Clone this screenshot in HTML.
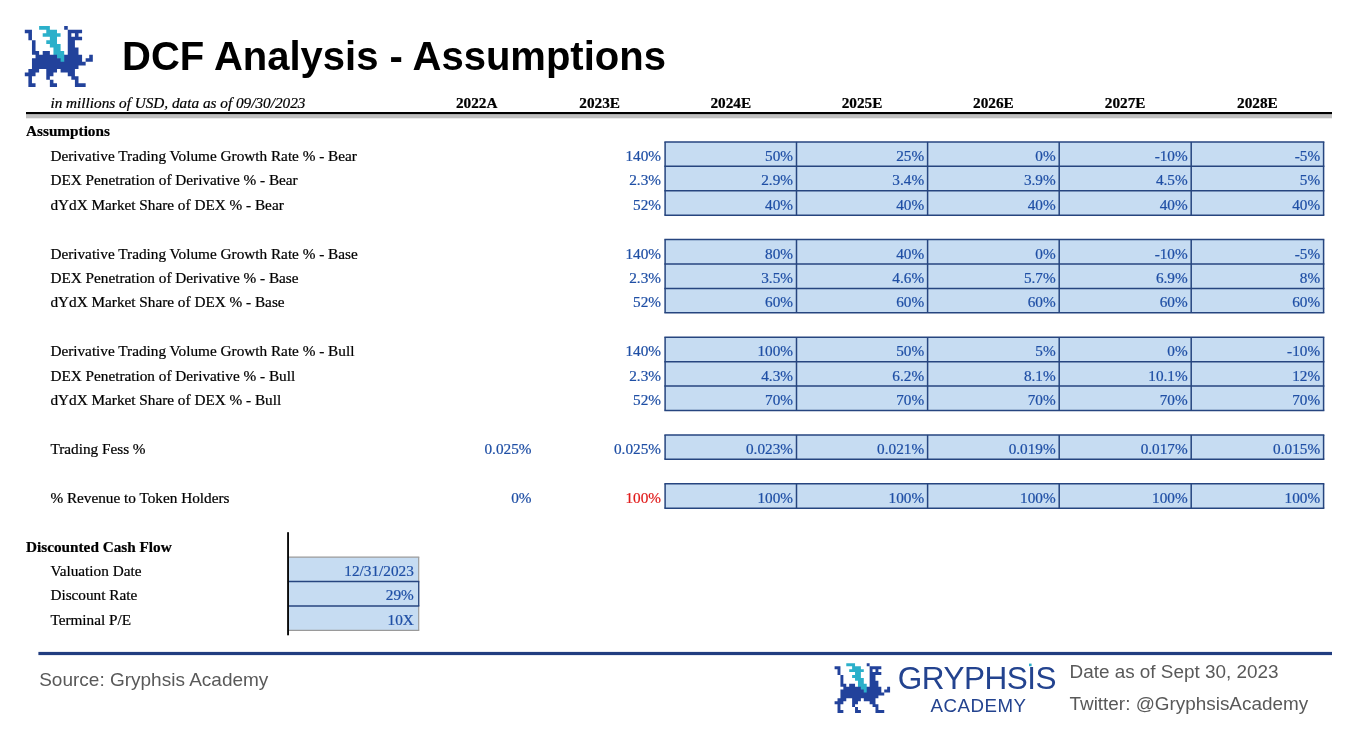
<!DOCTYPE html>
<html lang="en"><head><meta charset="utf-8"><title>DCF Analysis - Assumptions</title>
<style>
html,body{margin:0;padding:0;background:#fff}
body{width:1352px;height:747px;position:relative;overflow:hidden;font-family:"Liberation Serif","Times New Roman",serif;color:#000}
svg{position:absolute;left:0;top:0}
.r{position:absolute;white-space:nowrap;font-size:15.25px;line-height:24.42px;height:24.42px;padding-top:2.00px}
.r{-webkit-text-stroke:0.22px currentColor}
.b{font-weight:bold}
.i{font-style:italic}
.s{position:absolute;white-space:nowrap;font-family:"Liberation Sans",Arial,sans-serif}
h1{position:absolute;margin:0;left:122.1px;top:33.2px;font:bold 40px/46px "Liberation Sans",Arial,sans-serif;white-space:nowrap;color:#000}
</style></head><body>
<svg width="1352" height="747" viewBox="0 0 1352 747" shape-rendering="auto">
<path fill="#2bb0ca" d="M39.12 26.05h3.58v3.58h-3.58zM42.70 26.05h3.58v3.58h-3.58zM46.28 26.05h3.58v3.58h-3.58zM46.28 29.63h3.58v3.58h-3.58zM49.86 29.63h3.58v3.58h-3.58zM53.44 29.63h3.58v3.58h-3.58zM42.70 33.21h3.58v3.58h-3.58zM46.28 33.21h3.58v3.58h-3.58zM49.86 33.21h3.58v3.58h-3.58zM53.44 33.21h3.58v3.58h-3.58zM57.02 33.21h3.58v3.58h-3.58zM49.86 36.79h3.58v3.58h-3.58zM53.44 36.79h3.58v3.58h-3.58zM46.28 40.37h3.58v3.58h-3.58zM49.86 40.37h3.58v3.58h-3.58zM53.44 40.37h3.58v3.58h-3.58zM49.86 43.95h3.58v3.58h-3.58zM53.44 43.95h3.58v3.58h-3.58zM57.02 43.95h3.58v3.58h-3.58zM53.44 47.53h3.58v3.58h-3.58zM57.02 47.53h3.58v3.58h-3.58zM53.44 51.11h3.58v4.18h-3.58zM57.02 51.11h3.58v3.58h-3.58zM60.60 51.11h3.58v3.58h-3.58zM56.42 54.69h4.18v4.18h-4.18zM60.60 54.69h4.18v3.58h-4.18zM60.00 58.27h4.78v4.18h-4.78z"/>
<path fill="#22429b" d="M64.18 26.05h3.58v3.58h-3.58zM24.80 29.63h7.16v3.58h-7.16zM67.76 29.63h14.32v3.58h-14.32zM28.38 33.21h3.58v3.58h-3.58zM67.76 33.21h3.58v3.58h-3.58zM74.92 33.21h3.58v3.58h-3.58zM28.38 36.79h3.58v3.58h-3.58zM67.76 36.79h14.32v3.58h-14.32zM31.96 40.37h3.58v3.58h-3.58zM67.76 40.37h7.16v3.58h-7.16zM31.96 43.95h3.58v3.58h-3.58zM67.76 43.95h7.16v3.58h-7.16zM31.96 47.53h3.58v3.58h-3.58zM67.76 47.53h10.74v3.58h-10.74zM31.96 51.11h7.16v3.58h-7.16zM42.70 51.11h7.16v3.58h-7.16zM67.76 51.11h10.74v3.58h-10.74zM35.54 54.69h21.48v3.58h-21.48zM64.18 54.69h17.90v3.58h-17.90zM89.24 54.69h3.58v3.58h-3.58zM31.96 58.27h28.64v3.58h-28.64zM64.18 58.27h17.90v3.58h-17.90zM85.66 58.27h7.16v3.58h-7.16zM31.96 61.85h53.70v3.58h-53.70zM31.96 65.43h46.54v3.58h-46.54zM28.38 69.01h10.74v3.58h-10.74zM46.28 69.01h10.74v3.58h-10.74zM60.60 69.01h14.32v3.58h-14.32zM24.80 72.59h10.74v3.58h-10.74zM46.28 72.59h7.16v3.58h-7.16zM67.76 72.59h7.16v3.58h-7.16zM28.38 76.17h3.58v3.58h-3.58zM46.28 76.17h3.58v3.58h-3.58zM71.34 76.17h7.16v3.58h-7.16zM28.38 79.75h3.58v3.58h-3.58zM49.86 79.75h3.58v3.58h-3.58zM74.92 79.75h3.58v3.58h-3.58zM28.38 83.33h7.16v3.58h-7.16zM49.86 83.33h7.16v3.58h-7.16zM74.92 83.33h10.74v3.58h-10.74z"/>
<path fill="#2bb0ca" d="M846.28 663.30h2.92v2.92h-2.92zM849.20 663.30h2.92v2.92h-2.92zM852.12 663.30h2.92v2.92h-2.92zM852.12 666.22h2.92v2.92h-2.92zM855.04 666.22h2.92v2.92h-2.92zM857.96 666.22h2.92v2.92h-2.92zM849.20 669.14h2.92v2.92h-2.92zM852.12 669.14h2.92v2.92h-2.92zM855.04 669.14h2.92v2.92h-2.92zM857.96 669.14h2.92v2.92h-2.92zM860.88 669.14h2.92v2.92h-2.92zM855.04 672.06h2.92v2.92h-2.92zM857.96 672.06h2.92v2.92h-2.92zM852.12 674.98h2.92v2.92h-2.92zM855.04 674.98h2.92v2.92h-2.92zM857.96 674.98h2.92v2.92h-2.92zM855.04 677.90h2.92v2.92h-2.92zM857.96 677.90h2.92v2.92h-2.92zM860.88 677.90h2.92v2.92h-2.92zM857.96 680.82h2.92v2.92h-2.92zM860.88 680.82h2.92v2.92h-2.92zM857.96 683.74h2.92v3.52h-2.92zM860.88 683.74h2.92v2.92h-2.92zM863.80 683.74h2.92v2.92h-2.92zM860.28 686.66h3.52v3.52h-3.52zM863.80 686.66h3.52v2.92h-3.52zM863.20 689.58h4.12v3.52h-4.12z"/>
<path fill="#22429b" d="M866.72 663.30h2.92v2.92h-2.92zM834.60 666.22h5.84v2.92h-5.84zM869.64 666.22h11.68v2.92h-11.68zM837.52 669.14h2.92v2.92h-2.92zM869.64 669.14h2.92v2.92h-2.92zM875.48 669.14h2.92v2.92h-2.92zM837.52 672.06h2.92v2.92h-2.92zM869.64 672.06h11.68v2.92h-11.68zM840.44 674.98h2.92v2.92h-2.92zM869.64 674.98h5.84v2.92h-5.84zM840.44 677.90h2.92v2.92h-2.92zM869.64 677.90h5.84v2.92h-5.84zM840.44 680.82h2.92v2.92h-2.92zM869.64 680.82h8.76v2.92h-8.76zM840.44 683.74h5.84v2.92h-5.84zM849.20 683.74h5.84v2.92h-5.84zM869.64 683.74h8.76v2.92h-8.76zM843.36 686.66h17.52v2.92h-17.52zM866.72 686.66h14.60v2.92h-14.60zM887.16 686.66h2.92v2.92h-2.92zM840.44 689.58h23.36v2.92h-23.36zM866.72 689.58h14.60v2.92h-14.60zM884.24 689.58h5.84v2.92h-5.84zM840.44 692.50h43.80v2.92h-43.80zM840.44 695.42h37.96v2.92h-37.96zM837.52 698.34h8.76v2.92h-8.76zM852.12 698.34h8.76v2.92h-8.76zM863.80 698.34h11.68v2.92h-11.68zM834.60 701.26h8.76v2.92h-8.76zM852.12 701.26h5.84v2.92h-5.84zM869.64 701.26h5.84v2.92h-5.84zM837.52 704.18h2.92v2.92h-2.92zM852.12 704.18h2.92v2.92h-2.92zM872.56 704.18h5.84v2.92h-5.84zM837.52 707.10h2.92v2.92h-2.92zM855.04 707.10h2.92v2.92h-2.92zM875.48 707.10h2.92v2.92h-2.92zM837.52 710.02h5.84v2.92h-5.84zM855.04 710.02h5.84v2.92h-5.84zM875.48 710.02h8.76v2.92h-8.76z"/>
<rect x="26" y="114" width="1306" height="4.3" fill="#c0c0c0"/>
<rect x="26" y="112" width="1306" height="2.1" fill="#000"/>
<rect x="665.1" y="141.90" width="658.50" height="73.26" fill="#c6dcf2"/>
<line x1="664.35" x2="1324.35" y1="141.90" y2="141.90" stroke="#26457f" stroke-width="1.5"/>
<line x1="664.35" x2="1324.35" y1="166.32" y2="166.32" stroke="#26457f" stroke-width="1.5"/>
<line x1="664.35" x2="1324.35" y1="190.74" y2="190.74" stroke="#26457f" stroke-width="1.5"/>
<line x1="664.35" x2="1324.35" y1="215.16" y2="215.16" stroke="#26457f" stroke-width="1.5"/>
<line x1="665.1" x2="665.1" y1="141.90" y2="215.16" stroke="#26457f" stroke-width="1.5"/>
<line x1="796.5" x2="796.5" y1="141.90" y2="215.16" stroke="#26457f" stroke-width="1.5"/>
<line x1="927.6" x2="927.6" y1="141.90" y2="215.16" stroke="#26457f" stroke-width="1.5"/>
<line x1="1059.2" x2="1059.2" y1="141.90" y2="215.16" stroke="#26457f" stroke-width="1.5"/>
<line x1="1191.2" x2="1191.2" y1="141.90" y2="215.16" stroke="#26457f" stroke-width="1.5"/>
<line x1="1323.6" x2="1323.6" y1="141.90" y2="215.16" stroke="#26457f" stroke-width="1.5"/>
<rect x="665.1" y="239.58" width="658.50" height="73.26" fill="#c6dcf2"/>
<line x1="664.35" x2="1324.35" y1="239.58" y2="239.58" stroke="#26457f" stroke-width="1.5"/>
<line x1="664.35" x2="1324.35" y1="264.00" y2="264.00" stroke="#26457f" stroke-width="1.5"/>
<line x1="664.35" x2="1324.35" y1="288.42" y2="288.42" stroke="#26457f" stroke-width="1.5"/>
<line x1="664.35" x2="1324.35" y1="312.84" y2="312.84" stroke="#26457f" stroke-width="1.5"/>
<line x1="665.1" x2="665.1" y1="239.58" y2="312.84" stroke="#26457f" stroke-width="1.5"/>
<line x1="796.5" x2="796.5" y1="239.58" y2="312.84" stroke="#26457f" stroke-width="1.5"/>
<line x1="927.6" x2="927.6" y1="239.58" y2="312.84" stroke="#26457f" stroke-width="1.5"/>
<line x1="1059.2" x2="1059.2" y1="239.58" y2="312.84" stroke="#26457f" stroke-width="1.5"/>
<line x1="1191.2" x2="1191.2" y1="239.58" y2="312.84" stroke="#26457f" stroke-width="1.5"/>
<line x1="1323.6" x2="1323.6" y1="239.58" y2="312.84" stroke="#26457f" stroke-width="1.5"/>
<rect x="665.1" y="337.26" width="658.50" height="73.26" fill="#c6dcf2"/>
<line x1="664.35" x2="1324.35" y1="337.26" y2="337.26" stroke="#26457f" stroke-width="1.5"/>
<line x1="664.35" x2="1324.35" y1="361.68" y2="361.68" stroke="#26457f" stroke-width="1.5"/>
<line x1="664.35" x2="1324.35" y1="386.10" y2="386.10" stroke="#26457f" stroke-width="1.5"/>
<line x1="664.35" x2="1324.35" y1="410.52" y2="410.52" stroke="#26457f" stroke-width="1.5"/>
<line x1="665.1" x2="665.1" y1="337.26" y2="410.52" stroke="#26457f" stroke-width="1.5"/>
<line x1="796.5" x2="796.5" y1="337.26" y2="410.52" stroke="#26457f" stroke-width="1.5"/>
<line x1="927.6" x2="927.6" y1="337.26" y2="410.52" stroke="#26457f" stroke-width="1.5"/>
<line x1="1059.2" x2="1059.2" y1="337.26" y2="410.52" stroke="#26457f" stroke-width="1.5"/>
<line x1="1191.2" x2="1191.2" y1="337.26" y2="410.52" stroke="#26457f" stroke-width="1.5"/>
<line x1="1323.6" x2="1323.6" y1="337.26" y2="410.52" stroke="#26457f" stroke-width="1.5"/>
<rect x="665.1" y="434.94" width="658.50" height="24.42" fill="#c6dcf2"/>
<line x1="664.35" x2="1324.35" y1="434.94" y2="434.94" stroke="#26457f" stroke-width="1.5"/>
<line x1="664.35" x2="1324.35" y1="459.36" y2="459.36" stroke="#26457f" stroke-width="1.5"/>
<line x1="665.1" x2="665.1" y1="434.94" y2="459.36" stroke="#26457f" stroke-width="1.5"/>
<line x1="796.5" x2="796.5" y1="434.94" y2="459.36" stroke="#26457f" stroke-width="1.5"/>
<line x1="927.6" x2="927.6" y1="434.94" y2="459.36" stroke="#26457f" stroke-width="1.5"/>
<line x1="1059.2" x2="1059.2" y1="434.94" y2="459.36" stroke="#26457f" stroke-width="1.5"/>
<line x1="1191.2" x2="1191.2" y1="434.94" y2="459.36" stroke="#26457f" stroke-width="1.5"/>
<line x1="1323.6" x2="1323.6" y1="434.94" y2="459.36" stroke="#26457f" stroke-width="1.5"/>
<rect x="665.1" y="483.78" width="658.50" height="24.42" fill="#c6dcf2"/>
<line x1="664.35" x2="1324.35" y1="483.78" y2="483.78" stroke="#26457f" stroke-width="1.5"/>
<line x1="664.35" x2="1324.35" y1="508.20" y2="508.20" stroke="#26457f" stroke-width="1.5"/>
<line x1="665.1" x2="665.1" y1="483.78" y2="508.20" stroke="#26457f" stroke-width="1.5"/>
<line x1="796.5" x2="796.5" y1="483.78" y2="508.20" stroke="#26457f" stroke-width="1.5"/>
<line x1="927.6" x2="927.6" y1="483.78" y2="508.20" stroke="#26457f" stroke-width="1.5"/>
<line x1="1059.2" x2="1059.2" y1="483.78" y2="508.20" stroke="#26457f" stroke-width="1.5"/>
<line x1="1191.2" x2="1191.2" y1="483.78" y2="508.20" stroke="#26457f" stroke-width="1.5"/>
<line x1="1323.6" x2="1323.6" y1="483.78" y2="508.20" stroke="#26457f" stroke-width="1.5"/>
<rect x="289.0" y="557.2" width="129.7" height="73.09999999999991" fill="#c6dcf2"/>
<line x1="289.0" x2="419.3" y1="557.2" y2="557.2" stroke="#9a9a9a" stroke-width="1.3"/>
<line x1="289.0" x2="419.3" y1="630.3" y2="630.3" stroke="#9a9a9a" stroke-width="1.3"/>
<line x1="418.7" x2="418.7" y1="557.2" y2="630.3" stroke="#9a9a9a" stroke-width="1.2"/>
<line x1="289.0" x2="419.3" y1="581.5" y2="581.5" stroke="#26457f" stroke-width="1.3"/>
<line x1="289.0" x2="419.3" y1="606.0" y2="606.0" stroke="#26457f" stroke-width="1.3"/>
<line x1="418.7" x2="418.7" y1="581.5" y2="606.0" stroke="#26457f" stroke-width="1.2"/>
<rect x="287.1" y="532.2" width="1.9" height="103.1" fill="#0a0a0a"/>
<rect x="38.4" y="651.9" width="1293.6" height="3.2" fill="#213d80"/>
<rect x="1029" y="663.6" width="2.6" height="2.6" fill="#2bb0ca"/>
</svg>
<h1>DCF Analysis - Assumptions</h1>
<div class="r b" style="top:117.48px;left:26.00px;">Assumptions</div>
<div class="r " style="top:141.90px;left:50.40px;">Derivative Trading Volume Growth Rate % - Bear</div>
<div class="r " style="top:141.90px;left:461.00px;width:200px;text-align:right;color:#1f4fa5;">140%</div>
<div class="r " style="top:141.90px;left:593.00px;width:200px;text-align:right;color:#1f4fa5;">50%</div>
<div class="r " style="top:141.90px;left:724.10px;width:200px;text-align:right;color:#1f4fa5;">25%</div>
<div class="r " style="top:141.90px;left:855.70px;width:200px;text-align:right;color:#1f4fa5;">0%</div>
<div class="r " style="top:141.90px;left:987.70px;width:200px;text-align:right;color:#1f4fa5;">-10%</div>
<div class="r " style="top:141.90px;left:1120.10px;width:200px;text-align:right;color:#1f4fa5;">-5%</div>
<div class="r " style="top:166.32px;left:50.40px;">DEX Penetration of Derivative % - Bear</div>
<div class="r " style="top:166.32px;left:461.00px;width:200px;text-align:right;color:#1f4fa5;">2.3%</div>
<div class="r " style="top:166.32px;left:593.00px;width:200px;text-align:right;color:#1f4fa5;">2.9%</div>
<div class="r " style="top:166.32px;left:724.10px;width:200px;text-align:right;color:#1f4fa5;">3.4%</div>
<div class="r " style="top:166.32px;left:855.70px;width:200px;text-align:right;color:#1f4fa5;">3.9%</div>
<div class="r " style="top:166.32px;left:987.70px;width:200px;text-align:right;color:#1f4fa5;">4.5%</div>
<div class="r " style="top:166.32px;left:1120.10px;width:200px;text-align:right;color:#1f4fa5;">5%</div>
<div class="r " style="top:190.74px;left:50.40px;">dYdX Market Share of DEX % - Bear</div>
<div class="r " style="top:190.74px;left:461.00px;width:200px;text-align:right;color:#1f4fa5;">52%</div>
<div class="r " style="top:190.74px;left:593.00px;width:200px;text-align:right;color:#1f4fa5;">40%</div>
<div class="r " style="top:190.74px;left:724.10px;width:200px;text-align:right;color:#1f4fa5;">40%</div>
<div class="r " style="top:190.74px;left:855.70px;width:200px;text-align:right;color:#1f4fa5;">40%</div>
<div class="r " style="top:190.74px;left:987.70px;width:200px;text-align:right;color:#1f4fa5;">40%</div>
<div class="r " style="top:190.74px;left:1120.10px;width:200px;text-align:right;color:#1f4fa5;">40%</div>
<div class="r " style="top:239.58px;left:50.40px;">Derivative Trading Volume Growth Rate % - Base</div>
<div class="r " style="top:239.58px;left:461.00px;width:200px;text-align:right;color:#1f4fa5;">140%</div>
<div class="r " style="top:239.58px;left:593.00px;width:200px;text-align:right;color:#1f4fa5;">80%</div>
<div class="r " style="top:239.58px;left:724.10px;width:200px;text-align:right;color:#1f4fa5;">40%</div>
<div class="r " style="top:239.58px;left:855.70px;width:200px;text-align:right;color:#1f4fa5;">0%</div>
<div class="r " style="top:239.58px;left:987.70px;width:200px;text-align:right;color:#1f4fa5;">-10%</div>
<div class="r " style="top:239.58px;left:1120.10px;width:200px;text-align:right;color:#1f4fa5;">-5%</div>
<div class="r " style="top:264.00px;left:50.40px;">DEX Penetration of Derivative % - Base</div>
<div class="r " style="top:264.00px;left:461.00px;width:200px;text-align:right;color:#1f4fa5;">2.3%</div>
<div class="r " style="top:264.00px;left:593.00px;width:200px;text-align:right;color:#1f4fa5;">3.5%</div>
<div class="r " style="top:264.00px;left:724.10px;width:200px;text-align:right;color:#1f4fa5;">4.6%</div>
<div class="r " style="top:264.00px;left:855.70px;width:200px;text-align:right;color:#1f4fa5;">5.7%</div>
<div class="r " style="top:264.00px;left:987.70px;width:200px;text-align:right;color:#1f4fa5;">6.9%</div>
<div class="r " style="top:264.00px;left:1120.10px;width:200px;text-align:right;color:#1f4fa5;">8%</div>
<div class="r " style="top:288.42px;left:50.40px;">dYdX Market Share of DEX % - Base</div>
<div class="r " style="top:288.42px;left:461.00px;width:200px;text-align:right;color:#1f4fa5;">52%</div>
<div class="r " style="top:288.42px;left:593.00px;width:200px;text-align:right;color:#1f4fa5;">60%</div>
<div class="r " style="top:288.42px;left:724.10px;width:200px;text-align:right;color:#1f4fa5;">60%</div>
<div class="r " style="top:288.42px;left:855.70px;width:200px;text-align:right;color:#1f4fa5;">60%</div>
<div class="r " style="top:288.42px;left:987.70px;width:200px;text-align:right;color:#1f4fa5;">60%</div>
<div class="r " style="top:288.42px;left:1120.10px;width:200px;text-align:right;color:#1f4fa5;">60%</div>
<div class="r " style="top:337.26px;left:50.40px;">Derivative Trading Volume Growth Rate % - Bull</div>
<div class="r " style="top:337.26px;left:461.00px;width:200px;text-align:right;color:#1f4fa5;">140%</div>
<div class="r " style="top:337.26px;left:593.00px;width:200px;text-align:right;color:#1f4fa5;">100%</div>
<div class="r " style="top:337.26px;left:724.10px;width:200px;text-align:right;color:#1f4fa5;">50%</div>
<div class="r " style="top:337.26px;left:855.70px;width:200px;text-align:right;color:#1f4fa5;">5%</div>
<div class="r " style="top:337.26px;left:987.70px;width:200px;text-align:right;color:#1f4fa5;">0%</div>
<div class="r " style="top:337.26px;left:1120.10px;width:200px;text-align:right;color:#1f4fa5;">-10%</div>
<div class="r " style="top:361.68px;left:50.40px;">DEX Penetration of Derivative % - Bull</div>
<div class="r " style="top:361.68px;left:461.00px;width:200px;text-align:right;color:#1f4fa5;">2.3%</div>
<div class="r " style="top:361.68px;left:593.00px;width:200px;text-align:right;color:#1f4fa5;">4.3%</div>
<div class="r " style="top:361.68px;left:724.10px;width:200px;text-align:right;color:#1f4fa5;">6.2%</div>
<div class="r " style="top:361.68px;left:855.70px;width:200px;text-align:right;color:#1f4fa5;">8.1%</div>
<div class="r " style="top:361.68px;left:987.70px;width:200px;text-align:right;color:#1f4fa5;">10.1%</div>
<div class="r " style="top:361.68px;left:1120.10px;width:200px;text-align:right;color:#1f4fa5;">12%</div>
<div class="r " style="top:386.10px;left:50.40px;">dYdX Market Share of DEX % - Bull</div>
<div class="r " style="top:386.10px;left:461.00px;width:200px;text-align:right;color:#1f4fa5;">52%</div>
<div class="r " style="top:386.10px;left:593.00px;width:200px;text-align:right;color:#1f4fa5;">70%</div>
<div class="r " style="top:386.10px;left:724.10px;width:200px;text-align:right;color:#1f4fa5;">70%</div>
<div class="r " style="top:386.10px;left:855.70px;width:200px;text-align:right;color:#1f4fa5;">70%</div>
<div class="r " style="top:386.10px;left:987.70px;width:200px;text-align:right;color:#1f4fa5;">70%</div>
<div class="r " style="top:386.10px;left:1120.10px;width:200px;text-align:right;color:#1f4fa5;">70%</div>
<div class="r " style="top:434.94px;left:50.40px;">Trading Fess %</div>
<div class="r " style="top:434.94px;left:461.00px;width:200px;text-align:right;color:#1f4fa5;">0.025%</div>
<div class="r " style="top:434.94px;left:593.00px;width:200px;text-align:right;color:#1f4fa5;">0.023%</div>
<div class="r " style="top:434.94px;left:724.10px;width:200px;text-align:right;color:#1f4fa5;">0.021%</div>
<div class="r " style="top:434.94px;left:855.70px;width:200px;text-align:right;color:#1f4fa5;">0.019%</div>
<div class="r " style="top:434.94px;left:987.70px;width:200px;text-align:right;color:#1f4fa5;">0.017%</div>
<div class="r " style="top:434.94px;left:1120.10px;width:200px;text-align:right;color:#1f4fa5;">0.015%</div>
<div class="r " style="top:483.78px;left:50.40px;">% Revenue to Token Holders</div>
<div class="r " style="top:483.78px;left:461.00px;width:200px;text-align:right;color:#e11b1b;">100%</div>
<div class="r " style="top:483.78px;left:593.00px;width:200px;text-align:right;color:#1f4fa5;">100%</div>
<div class="r " style="top:483.78px;left:724.10px;width:200px;text-align:right;color:#1f4fa5;">100%</div>
<div class="r " style="top:483.78px;left:855.70px;width:200px;text-align:right;color:#1f4fa5;">100%</div>
<div class="r " style="top:483.78px;left:987.70px;width:200px;text-align:right;color:#1f4fa5;">100%</div>
<div class="r " style="top:483.78px;left:1120.10px;width:200px;text-align:right;color:#1f4fa5;">100%</div>
<div class="r " style="top:434.94px;left:331.50px;width:200px;text-align:right;color:#1f4fa5;">0.025%</div>
<div class="r " style="top:483.78px;left:331.50px;width:200px;text-align:right;color:#1f4fa5;">0%</div>
<div class="r b" style="top:532.62px;left:26.00px;">Discounted Cash Flow</div>
<div class="r " style="top:557.04px;left:50.40px;">Valuation Date</div>
<div class="r " style="top:557.04px;left:213.80px;width:200px;text-align:right;color:#1f4fa5;">12/31/2023</div>
<div class="r " style="top:581.46px;left:50.40px;">Discount Rate</div>
<div class="r " style="top:581.46px;left:213.80px;width:200px;text-align:right;color:#1f4fa5;">29%</div>
<div class="r " style="top:605.88px;left:50.40px;">Terminal P/E</div>
<div class="r " style="top:605.88px;left:213.80px;width:200px;text-align:right;color:#1f4fa5;">10X</div>
<div class="r i" style="top:89.05px;left:50.40px;">in millions of USD, data as of 09/30/2023</div>
<div class="r b" style="top:89.05px;left:426.70px;width:100px;text-align:center">2022A</div>
<div class="r b" style="top:89.05px;left:549.70px;width:100px;text-align:center">2023E</div>
<div class="r b" style="top:89.05px;left:680.80px;width:100px;text-align:center">2024E</div>
<div class="r b" style="top:89.05px;left:812.05px;width:100px;text-align:center">2025E</div>
<div class="r b" style="top:89.05px;left:943.40px;width:100px;text-align:center">2026E</div>
<div class="r b" style="top:89.05px;left:1075.20px;width:100px;text-align:center">2027E</div>
<div class="r b" style="top:89.05px;left:1207.40px;width:100px;text-align:center">2028E</div>
<div class="s" style="left:39.2px;top:669.35px;font-size:19px;line-height:21px;color:#595959">Source: Gryphsis Academy</div>
<div class="s" style="left:1069.5px;top:660.5px;font-size:18.9px;line-height:22px;color:#595959">Date as of Sept 30, 2023</div>
<div class="s" style="left:1069.5px;top:692.5px;font-size:18.9px;line-height:22px;color:#595959">Twitter: @GryphsisAcademy</div>
<div class="s" style="left:897.8px;top:660.4px;font-size:31.5px;line-height:36px;color:#23438f;letter-spacing:-0.5px">GRYPHSIS</div>
<div class="s" style="left:930.6px;top:695.6px;font-size:18.7px;line-height:20px;color:#23438f;letter-spacing:0.5px">ACADEMY</div>
</body></html>
